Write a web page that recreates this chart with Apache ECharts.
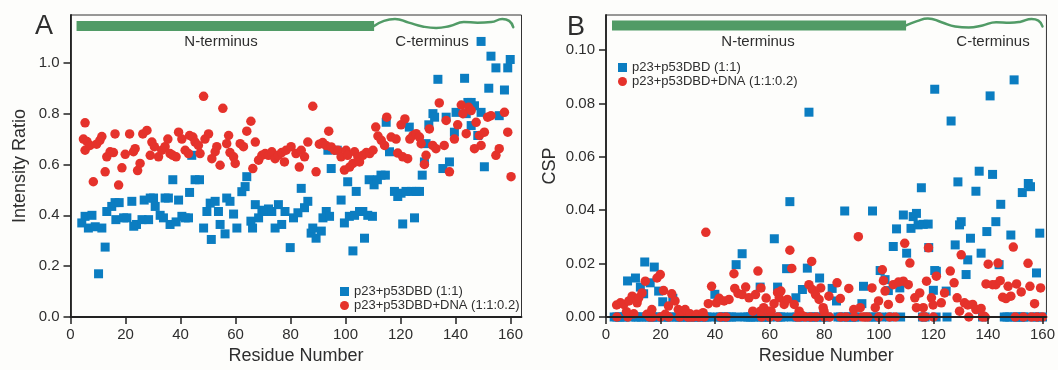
<!DOCTYPE html>
<html><head><meta charset="utf-8">
<script src="https://cdn.jsdelivr.net/npm/echarts@6/dist/echarts.min.js"></script>
<style>html,body{margin:0;padding:0;background:#fdfdfb}#c{width:1058px;height:370px}</style>
</head><body><div id="c"></div>
<script>
// ---------- data ----------
const xTicks = [0, 20, 40, 60, 80, 100, 120, 140, 160];
const yTicksA = [0, 0.2, 0.4, 0.6, 0.8, 1.0];
const yTicksB = [0, 0.02, 0.04, 0.06, 0.08, 0.10];
const seriesNames = ['p23+p53DBD (1:1)', 'p23+p53DBD+DNA (1:1:0.2)'];
const domainLabels = ['N-terminus', 'C-terminus'];

// Panel A: intensity ratio [residue, ratio]
const blueA = [[4.1,0.37],[5.3,0.396],[6.5,0.35],[7.8,0.40],[9,0.355],[10.2,0.17],[11.4,0.35],[12.6,0.275],[13.2,0.415],[15,0.435],[16.2,0.45],[16.5,0.383],[17.7,0.45],[19.3,0.39],[20.5,0.39],[22.3,0.455],[23,0.357],[24,0.364],[26,0.383],[26.8,0.46],[28.4,0.383],[29,0.468],[30.2,0.468],[30.8,0.435],[32.6,0.40],[33.8,0.39],[34.4,0.468],[35.6,0.468],[36.2,0.364],[37.2,0.54],[38.4,0.374],[39.3,0.46],[40.5,0.396],[41.7,0.39],[42.9,0.39],[43.3,0.49],[44.1,0.636],[45.3,0.54],[46.9,0.54],[48.4,0.35],[49.6,0.415],[50.8,0.448],[51.2,0.305],[52.6,0.455],[53.8,0.415],[54.4,0.364],[56.2,0.327],[56.8,0.468],[58,0.455],[59.3,0.405],[60.5,0.35],[62.3,0.493],[63.5,0.513],[64.1,0.552],[65.6,0.377],[66.2,0.35],[67.2,0.442],[68.4,0.39],[69.6,0.42],[70.8,0.415],[72,0.425],[73.2,0.415],[74.4,0.35],[75.6,0.442],[76.8,0.364],[78,0.415],[79.9,0.273],[81.1,0.39],[82.7,0.41],[83.9,0.506],[85.1,0.43],[86.3,0.455],[87.5,0.33],[88.1,0.35],[89.3,0.31],[91.2,0.338],[91.8,0.39],[93,0.415],[93.6,0.656],[94.2,0.396],[94.8,0.584],[97,0.656],[98.4,0.46],[99.6,0.37],[100.8,0.532],[101.4,0.396],[102.7,0.26],[103.3,0.40],[103.9,0.494],[105.1,0.415],[106.3,0.415],[106.9,0.31],[108.1,0.40],[108.6,0.54],[109.8,0.396],[110.4,0.52],[111.6,0.54],[112.9,0.558],[114.5,0.558],[114.8,0.766],[116,0.65],[117.8,0.494],[119,0.474],[120.2,0.487],[120.8,0.366],[122,0.494],[123.2,0.747],[123.9,0.494],[125.1,0.39],[125.7,0.494],[126.9,0.494],[127.9,0.558],[128.7,0.61],[129.3,0.682],[130.3,0.756],[131.8,0.80],[132.4,0.786],[133.6,0.935],[135.4,0.584],[136.6,0.786],[137.8,0.61],[139.6,0.727],[140.2,0.805],[143.3,0.939],[143.9,0.80],[144.5,0.844],[145.7,0.844],[145.7,0.753],[146.9,0.831],[148.1,0.714],[149.3,0.805],[149.3,1.084],[150.5,0.591],[152.1,0.90],[152.9,1.026],[154.7,0.98],[155.9,0.792],[157.8,0.893],[159,0.98],[159.9,1.013]];
const redA = [[4.7,0.70],[5.3,0.764],[5.3,0.656],[6,0.69],[7.1,0.675],[8.3,0.532],[9.5,0.68],[10.7,0.695],[11.4,0.71],[12.6,0.571],[13.2,0.63],[14.4,0.65],[15.6,0.647],[16.2,0.72],[17.5,0.519],[18.7,0.587],[19.9,0.64],[21.5,0.72],[22.9,0.65],[23.5,0.662],[24.4,0.576],[25.3,0.604],[26.3,0.72],[27.8,0.734],[29,0.636],[29.6,0.688],[30.5,0.67],[32,0.63],[33.2,0.656],[34.4,0.67],[35.4,0.70],[36.2,0.643],[37.2,0.636],[38.4,0.63],[39.3,0.727],[40.5,0.70],[41.7,0.656],[42.9,0.643],[43.3,0.714],[44.5,0.708],[45.3,0.688],[46.5,0.675],[47.1,0.643],[48.4,0.868],[48.9,0.70],[50.2,0.72],[51.4,0.623],[52.6,0.65],[53.2,0.67],[54.4,0.597],[55.4,0.821],[56.8,0.682],[57.5,0.714],[58,0.647],[59.3,0.63],[59.9,0.604],[61.7,0.682],[62.9,0.67],[64.1,0.731],[65.6,0.77],[66.3,0.584],[67.2,0.688],[68.4,0.617],[69.6,0.636],[70.8,0.643],[72,0.636],[73.2,0.65],[74.4,0.623],[75.6,0.636],[76.8,0.647],[77.8,0.61],[78.4,0.656],[80.2,0.67],[82,0.643],[83.2,0.59],[83.9,0.656],[85.1,0.63],[86.3,0.688],[88.1,0.829],[89.3,0.571],[90.5,0.68],[91.7,0.686],[92.9,0.675],[93.9,0.731],[94.8,0.669],[96,0.656],[97.2,0.656],[98.4,0.63],[99.6,0.578],[100.2,0.656],[100.8,0.636],[101.5,0.59],[102.7,0.604],[103.3,0.65],[104.5,0.63],[105.1,0.61],[106.3,0.636],[107.6,0.647],[108.8,0.643],[110,0.656],[111,0.747],[111.8,0.712],[113,0.695],[114.2,0.675],[115,0.786],[116.6,0.708],[118.4,0.70],[119,0.645],[120.2,0.756],[120.8,0.63],[121.6,0.779],[122.6,0.623],[123.4,0.70],[124.5,0.714],[125.7,0.721],[126.9,0.708],[127.5,0.682],[128.7,0.60],[129.3,0.636],[130.5,0.74],[131.7,0.675],[132.9,0.662],[134.1,0.842],[135.9,0.675],[136.6,0.773],[137.8,0.571],[139.6,0.70],[140.8,0.756],[142.1,0.834],[142.7,0.80],[143.9,0.721],[144.8,0.825],[145.7,0.812],[146.9,0.662],[147.5,0.766],[148.7,0.714],[149.3,0.675],[150.5,0.727],[151.7,0.786],[152.9,0.792],[154.7,0.636],[155.9,0.662],[157.8,0.805],[159,0.727],[160.2,0.552]];

// Panel B: CSP [residue, csp]
const blueBNonzero = [[7.9,0.0135],[10.8,0.0146],[12.6,0.0112],[13.8,0.0087],[14.2,0.0206],[16.2,0.0128],[17.7,0.0187],[19.3,0.0097],[20.8,0.0057],[24.5,0.007],[39.9,0.0085],[47.7,0.0196],[49.9,0.0237],[56.5,0.0112],[61.7,0.0293],[62.9,0.0112],[66.2,0.0181],[67.4,0.0432],[69.6,0.0072],[72,0.0103],[73.8,0.0183],[74.4,0.0767],[78.3,0.0146],[82.9,0.0107],[84.5,0.006],[87.5,0.0397],[93.8,0.005],[94.4,0.0115],[97.7,0.0397],[100.5,0.0174],[102.3,0.014],[103.5,0.0099],[105.3,0.0264],[106.5,0.033],[107.7,0.0109],[109,0.0382],[110.2,0.0239],[111.8,0.0332],[112.6,0.0376],[113.8,0.0388],[114.4,0.0345],[115.6,0.0484],[116.3,0.0347],[118.1,0.0348],[118.3,0.026],[120,0.01],[120.5,0.0174],[120.5,0.0853],[121.1,0.0171],[124.7,0.0097],[126.5,0.0734],[128,0.027],[129,0.0506],[129.6,0.0345],[130.2,0.0357],[132,0.0159],[132.6,0.0214],[133.6,0.0295],[135.6,0.0471],[136.8,0.0546],[137.5,0.0239],[139.6,0.032],[140.8,0.0828],[141.7,0.0534],[142.9,0.0357],[144.1,0.0196],[144.7,0.0422],[148.4,0.0307],[149.6,0.0888],[152.6,0.0466],[154.8,0.05],[155.6,0.0488],[157.8,0.0165],[159,0.0314]];
const blueBZeroResidues = [3,4,5,6,7,9,11,12,13,15,16,17,18,19,21,22,23,25,26,27,28,29,30,31,32,33,34,35,36,37,38,41,42,43,44,45,46,48,51,52,53,54,55,57,58,59,60,63,64,65,68,70,71,73,75,76,77,79,80,81,85,86,88,89,90,91,92,96,98,99,101,104,108,116,117,121,125,138,146,147,148,150,151,152,153,154,157,158,160];
const redBNonzero = [[3.9,0.0045],[5.3,0.0053],[6.5,0.0047],[7.5,0.002],[8.4,0.006],[9.6,0.0078],[10.2,0.0012],[11.4,0.0053],[12,0.0072],[13.2,0.009],[14.4,0.0134],[15,0.001],[16.8,0.0028],[18.7,0.0146],[19.9,0.0159],[21.1,0.0099],[21.7,0.001],[22.9,0.0041],[24.1,0.0087],[25.3,0.006],[26.5,0.0028],[27.8,0.0022],[29,0.0028],[30.8,0.0012],[33.2,0.001],[35.6,0.0016],[36.6,0.0317],[37.5,0.005],[38.7,0.0115],[40.5,0.0053],[41.5,0.007],[43.3,0.006],[45.1,0.0066],[46.9,0.0162],[47.2,0.0107],[48.4,0.0088],[49.9,0.0084],[51.2,0.0112],[52.4,0.0072],[53.8,0.0022],[54.8,0.0084],[55.7,0.0172],[56.6,0.0022],[56.8,0.0109],[57.8,0.0035],[58.7,0.0071],[59.6,0.0022],[60.5,0.0022],[61.6,0.005],[62.9,0.0091],[63.5,0.0072],[64.1,0.0097],[65.3,0.0047],[66.5,0.0066],[67.4,0.025],[68.1,0.0182],[69,0.0047],[70.8,0.0022],[72,0.0005],[74.4,0.0121],[75.4,0.0208],[75.6,0.0103],[76.8,0.0084],[78.1,0.0066],[78.7,0.0109],[79.6,0.0035],[79.9,0.0022],[81.7,0.0078],[84.7,0.0128],[85.9,0.0069],[89,0.0107],[90.8,0.0028],[92.5,0.0301],[93.2,0.0035],[97.5,0.0109],[98.7,0.0035],[99.9,0.006],[101.3,0.0177],[101.7,0.0136],[102.3,0.0097],[103.5,0.0047],[105.3,0.0121],[107.2,0.0131],[107.7,0.0069],[109,0.0134],[109.5,0.0276],[110.8,0.0121],[111.4,0.0202],[113.2,0.0072],[113.8,0.0035],[115,0.009],[116.3,0.0035],[117.5,0.0134],[118.2,0.0259],[119.3,0.0072],[119.9,0.0045],[121.1,0.0153],[122.9,0.0053],[124.1,0.009],[126.2,0.0172],[127.6,0.0128],[128.7,0.0072],[129.6,0.0022],[130.2,0.0233],[131.4,0.0053],[132.6,0.0045],[134.4,0.0047],[135.6,0.0028],[137.5,0.0032],[138.4,0.0004],[139.3,0.0124],[140.1,0.0198],[141.7,0.0121],[142.9,0.0121],[143.7,0.0202],[144.5,0.0136],[145.4,0.0074],[146.6,0.0069],[147.4,0.0115],[148.4,0.0078],[149.3,0.0262],[150.5,0.0124],[152.2,0.0094],[154.7,0.0201],[155.4,0.0115],[157.1,0.005],[159.3,0.0109]];
const redBZeroResidues = [4,8,16,17,20,23,27,30,31,32,34,36,42,44,57,60,63,70,71,73,75,77,80,82,86,88,91,94,95,96,100,104,106,116,117,120,133,138,139,150,153,156,158,160];

// Domain schematic (residue ranges; decoration)
const nTermRange = [2.2, 110.4];
const waveA = [[110.4,1.145],[114,1.165],[118,1.172],[123,1.158],[128,1.143],[133,1.137],[138,1.145],[143,1.16],[148,1.158],[153,1.16],[157,1.172],[159.5,1.165],[161,1.14]];
const waveB = [[110,0.1092],[114,0.1108],[118,0.1118],[123,0.1104],[128,0.1088],[133,0.1084],[138,0.1092],[143,0.1104],[148,0.1102],[152,0.1106],[156,0.1116],[158.5,0.111],[160,0.1088]];

// ---------- chart ----------
const FONT = '"Liberation Sans", Arial, sans-serif';
const TXT = '#2e2e2e';
const BLUE = '#0b7dc1', RED = '#e5322b', GREEN = '#519b66';
const blueB = blueBZeroResidues.map(r => [r, 0]).concat(blueBNonzero);
const redB = redBZeroResidues.map(r => [r, 0]).concat(redBNonzero);

function xAxis(idx, max) {
  return {
    type: 'value', gridIndex: idx, min: 0, max: max, interval: 20, z: 5,
    name: 'Residue Number', nameLocation: 'middle', nameGap: 30,
    nameTextStyle: { fontSize: 18, color: TXT, fontFamily: FONT },
    axisLine: { show: true, lineStyle: { color: '#222', width: 1.8 } },
    axisTick: { show: true, length: 7, inside: false, customValues: xTicks, lineStyle: { color: '#222', width: 1.5 } },
    axisLabel: { customValues: xTicks, margin: 10, fontSize: 15, color: TXT, fontFamily: FONT },
    splitLine: { show: false }
  };
}
function yAxis(idx, max, ticks, name, gap, dec) {
  return {
    type: 'value', gridIndex: idx, min: 0, max: max, z: 5,
    name: name, nameLocation: 'middle', nameGap: gap,
    nameTextStyle: { fontSize: 18, color: TXT, fontFamily: FONT },
    axisLine: { show: true, lineStyle: { color: '#222', width: 1.8 } },
    axisTick: { show: true, length: 7, customValues: ticks, lineStyle: { color: '#222', width: 1.5 } },
    axisLabel: { customValues: ticks, margin: 11, fontSize: 15, color: TXT, fontFamily: FONT,
      formatter: v => Number(v).toFixed(dec) },
    splitLine: { show: false }
  };
}
function scatter(name, data, xi, symbol, size, color) {
  return { type: 'scatter', name: name, xAxisIndex: xi, yAxisIndex: xi, data: data,
    symbol: symbol, symbolSize: size, itemStyle: { color: color, opacity: 1 },
    emphasis: { disabled: true }, z: symbol === 'circle' ? 3 : 2 };
}
function deco(data, xi, width, smooth) {
  return { type: 'line', xAxisIndex: xi, yAxisIndex: xi, data: data, silent: true,
    showSymbol: false, symbol: 'none', smooth: smooth, clip: false, z: 4,
    lineStyle: { color: GREEN, width: width, cap: smooth ? 'round' : 'butt' } };
}
function legend(left, top) {
  return { orient: 'vertical', left: left, top: top, padding: 0, itemWidth: 9, itemHeight: 9, itemGap: 1,
    selectedMode: false,
    textStyle: { fontSize: 13, color: TXT, fontFamily: FONT, lineHeight: 12 },
    data: [{ name: seriesNames[0], icon: 'rect' }, { name: seriesNames[1], icon: 'circle' }] };
}
function label(text, x, y, size) {
  return { type: 'text', x: x, y: y, z: 10,
    style: { text: text, fontSize: size, fontFamily: FONT, fill: TXT, align: 'center', verticalAlign: 'middle' } };
}

const chart = echarts.init(document.getElementById('c'), null, { renderer: 'canvas' });
chart.setOption({
  backgroundColor: '#fdfdfb',
  animation: false,
  grid: [
    { left: 70.5, top: 15, width: 451, height: 305, show: true, borderColor: '#333', borderWidth: 1, containLabel: false },
    { left: 606, top: 15, width: 444, height: 304, show: true, borderColor: '#333', borderWidth: 1, containLabel: false }
  ],
  xAxis: [xAxis(0, 164), xAxis(1, 161.45)],
  yAxis: [yAxis(0, 1.188, yTicksA, 'Intensity Ratio', 41, 1), yAxis(1, 0.1131, yTicksB, 'CSP', 47, 2)],
  legend: [legend(340, 285), legend(618, 61)],
  series: [
    scatter(seriesNames[0], blueA, 0, 'rect', 9, BLUE),
    scatter(seriesNames[1], redA, 0, 'circle', 9.5, RED),
    scatter(seriesNames[0], blueB, 1, 'rect', 9, BLUE),
    scatter(seriesNames[1], redB, 1, 'circle', 9.5, RED),
    deco([[nTermRange[0], 1.145], [nTermRange[1], 1.145]], 0, 10, false),
    deco(waveA, 0, 2.5, true),
    deco([[nTermRange[0], 0.1092], [nTermRange[1] - 0.4, 0.1092]], 1, 10, false),
    deco(waveB, 1, 2.5, true)
  ],
  graphic: [
    label('A', 44, 27, 27), label('B', 576, 28, 27),
    label(domainLabels[0], 221, 42, 15), label(domainLabels[1], 432, 42, 15),
    label(domainLabels[0], 758, 42, 15), label(domainLabels[1], 993, 42, 15)
  ]
});
</script>
</body></html>
